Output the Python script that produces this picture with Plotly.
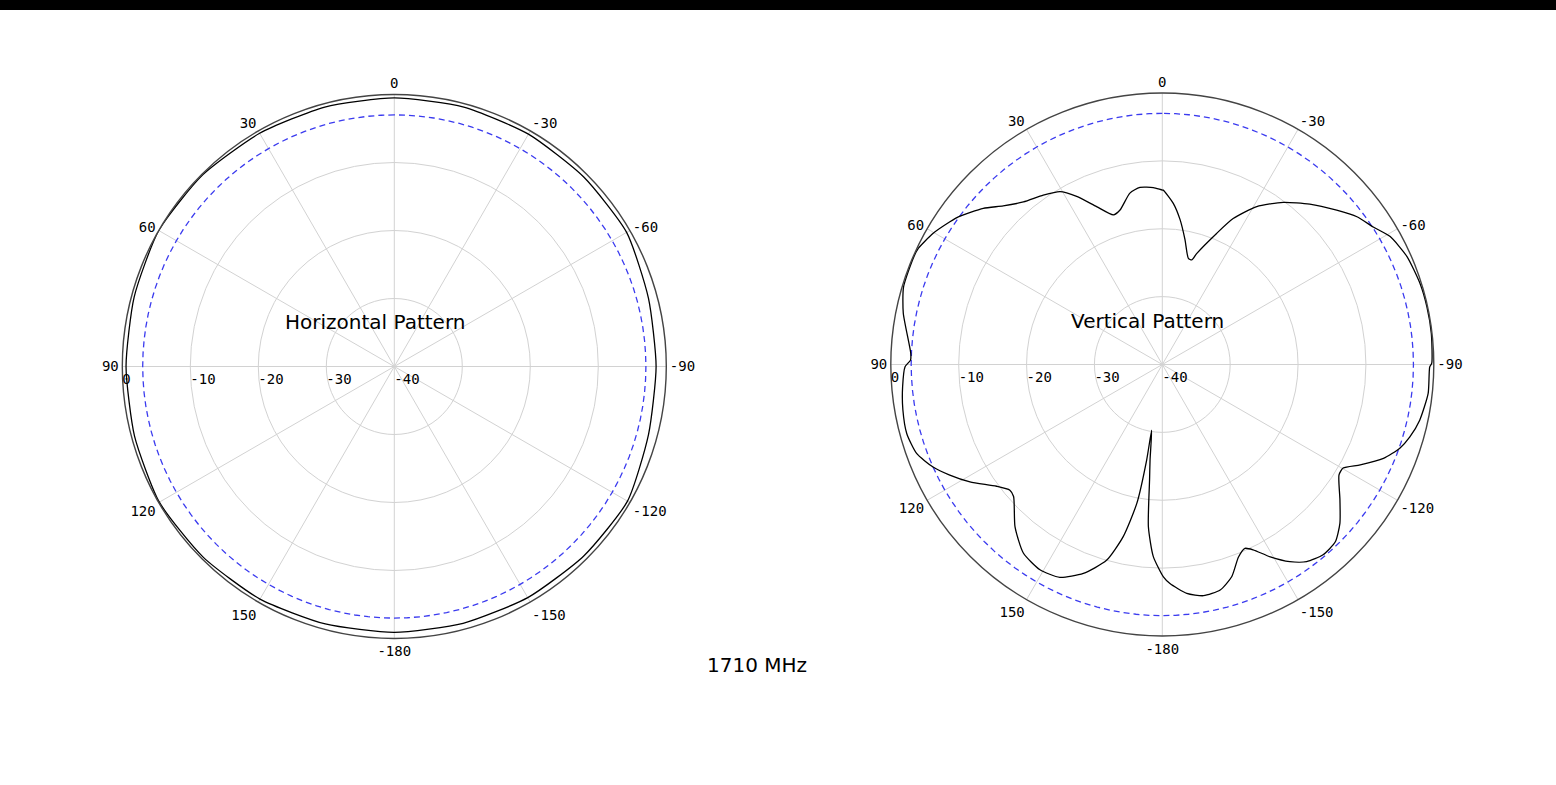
import plotly.graph_objects as go

# ---------------- data ----------------
ANGLE_TICKS = [0, 30, 60, 90, 120, 150, 180, 210, 240, 270, 300, 330]
ANGLE_LABELS = ["0", "30", "60", "90", "120", "150", "-180", "-150", "-120", "-90", "-60", "-30"]
RADIAL_TICKS = [-40, -30, -20, -10, 0]
RADIAL_LABELS = ["-40", "-30", "-20", "-10", "0"]

# Horizontal pattern (degrees, dB)
H_THETA = [0, 15, 30, 45, 60, 75, 90, 105, 120, 135, 150, 165, 180,
           -165, -150, -135, -120, -105, -90, -75, -60, -45, -30, -15, 0]
H_R = [-0.5, -0.5, -0.4, -0.15, 0.0, -0.4, -0.55, -0.45, -0.1, -0.3, -0.5, -0.8, -0.9,
       -0.9, -0.75, -0.6, -0.4, -1.3, -1.5, -1.3, -0.55, -0.6, -0.55, -0.5, -0.5]

# Vertical pattern (degrees, dB)
V_THETA = [0, 2.9, 7.2, 10.7, 15.3, 18.1, 22.6, 27.0, 30.6, 35.1, 40.5, 45.1, 48.9,
           54.1, 56.1, 60.2, 64.5, 66.7, 73.3, 78.8, 87.4, 89.0, 90.5, 94.9, 99.9,
           105.1, 109.9, 114.1, 117.5, 121.4, 126.3, 129.5, 131.6, 137.8, 143.6,
           149.2, 154.3, 159.3, 164.1, 167.2, 169.6, 170.7, 170.8, 172.7, 173.7,
           175.1, 177.3, -179.7, -178.0, -173.9, -169.9, -165.6, -161.9, -158.4,
           -155.8, -153.9, -150.7, -147.1, -143.8, -139.8, -135.7, -131.8, -127.3,
           -122.0, -119.8, -116.9, -113.0, -109.4, -106.3, -102.2, -96.2, -90.5,
           -89.7, -83.4, -77.7, -72.5, -66.2, -60.7, -56.9, -52.8, -48.5, -42.6,
           -36.7, -30.9, -25.9, -22.5, -17.2, -15.7, -13.8, -10.3, -7.0, -3.9, -0.3, 0]
V_R = [-14.3, -13.9, -13.7, -14.3, -16.4, -16.8, -14.8, -12.2, -10.4, -9.5, -8.5, -6.9, -5.0,
       -2.9, -2.3, -1.1, -0.2, -0.1, -0.2, -1.1, -2.9, -2.9, -2.1, -1.6, -1.2,
       -1.0, -1.5, -3.0, -4.7, -6.8, -9.7, -10.9, -10.7, -7.7, -5.5,
       -4.8, -5.2, -7.1, -10.0, -14.0, -19.2, -25.7, -30.2, -25.8, -22.9,
       -16.0, -11.7, -8.7, -7.7, -6.1, -5.4, -5.7, -7.1, -9.5,
       -10.3, -9.6, -7.5, -5.4, -4.0, -3.3, -3.5, -4.9, -7.1,
       -9.3, -9.3, -7.3, -4.6, -2.9, -2.0, -1.2, -0.6, -0.6,
       -0.3, -0.1, -0.1, -0.2, -0.6, -1.5, -2.9, -4.0, -5.7, -7.9,
       -10.2, -12.9, -16.1, -19.1, -22.9, -24.0, -23.9, -21.3, -18.5, -16.2, -14.3, -14.3]

REF_LEVEL = -3  # dB reference circle
REF_THETA = list(range(0, 361, 3))

TITLES = ["Horizontal Pattern", "Vertical Pattern"]
FREQ_LABEL = "1710 MHz"

# ---------------- figure ----------------
W, H = 1556, 785

fig = go.Figure()

for sub, (th, rr) in zip(["polar", "polar2"], [(H_THETA, H_R), (V_THETA, V_R)]):
    fig.add_trace(go.Scatterpolar(
        theta=REF_THETA, r=[REF_LEVEL] * len(REF_THETA), mode="lines",
        line=dict(color="#3b3bef", width=1.3, dash="6px,4px"),
        subplot=sub, showlegend=False, hoverinfo="skip"))
    fig.add_trace(go.Scatterpolar(
        theta=th, r=rr, mode="lines",
        line=dict(color="black", width=1.3, shape="spline", smoothing=0.6),
        subplot=sub, showlegend=False))

tickfont = dict(family="DejaVu Sans Mono", size=14, color="black")


def polar_layout(xd, yd):
    return dict(
        domain=dict(x=xd, y=yd),
        bgcolor="white",
        angularaxis=dict(
            rotation=90, direction="counterclockwise",
            tickmode="array", tickvals=ANGLE_TICKS, ticktext=ANGLE_LABELS,
            showline=True, linecolor="#444444", linewidth=1.4,
            showgrid=True, gridcolor="#d2d2d2", gridwidth=1,
            ticks="", tickfont=tickfont,
        ),
        radialaxis=dict(
            range=[-40, 0], tickmode="array", tickvals=RADIAL_TICKS, ticktext=RADIAL_LABELS,
            showline=False, showgrid=True, gridcolor="#d2d2d2", gridwidth=1,
            angle=180, side="counterclockwise", tickangle=180, ticks="",
            tickfont=tickfont,
        ),
    )


def dom(cx, cy, rad):
    return ([(cx - rad) / W, (cx + rad) / W], [(H - cy - rad) / H, (H - cy + rad) / H])


x1, y1 = dom(394.3, 366.5, 272)
x2, y2 = dom(1162.3, 364.5, 271.5)

fig.update_layout(
    width=W, height=H,
    margin=dict(l=0, r=0, t=0, b=0),
    paper_bgcolor="white", plot_bgcolor="white",
    polar=polar_layout(x1, y1),
    polar2=polar_layout(x2, y2),
    showlegend=False,
    shapes=[dict(type="rect", xref="paper", yref="paper",
                 x0=0, x1=1, y0=1 - 10 / H, y1=1,
                 fillcolor="black", line=dict(width=0), layer="above")],
    annotations=[
        dict(text=TITLES[0], xref="paper", yref="paper", x=375 / W, y=1 - 322 / H,
             showarrow=False, font=dict(family="DejaVu Sans", size=20, color="black"),
             xanchor="center", yanchor="middle"),
        dict(text=TITLES[1], xref="paper", yref="paper", x=1147 / W, y=1 - 321 / H,
             showarrow=False, font=dict(family="DejaVu Sans", size=20, color="black"),
             xanchor="center", yanchor="middle"),
        dict(text=FREQ_LABEL, xref="paper", yref="paper", x=756.5 / W, y=1 - 665 / H,
             showarrow=False, font=dict(family="DejaVu Sans", size=20, color="black"),
             xanchor="center", yanchor="middle"),
    ],
)

fig.write_html("out.html", config={"displayModeBar": False},
               post_script="document.body.style.margin='0';document.body.style.overflow='hidden';")
